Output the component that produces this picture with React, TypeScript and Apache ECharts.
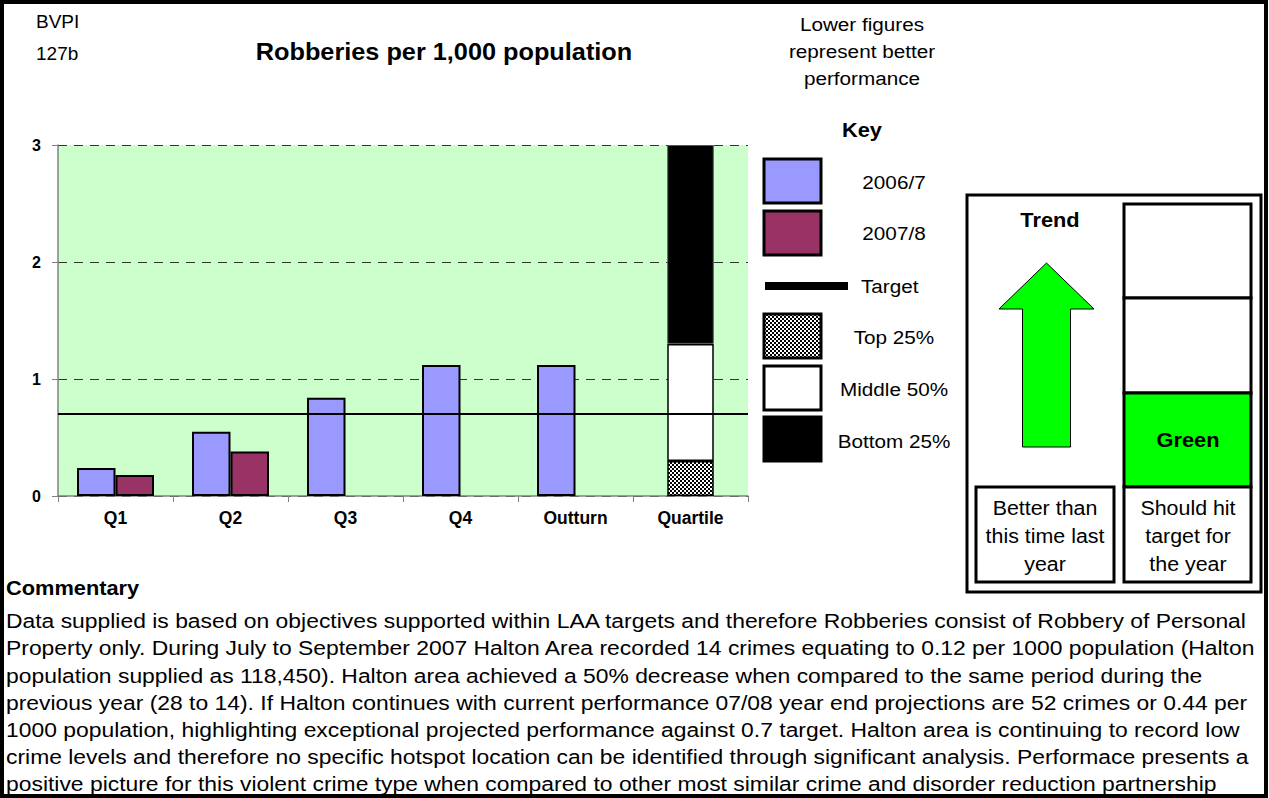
import React, { useEffect, useRef } from 'react';
import * as echarts from 'echarts';

const categories = ['Q1', 'Q2', 'Q3', 'Q4', 'Outturn', 'Quartile'];
const values2006 = [0.24, 0.55, 0.84, 1.12, 1.12, null];
const values2007 = [0.18, 0.38, null, null, null, null];
const targetValue = 0.7;
const quartileTop = [null, null, null, null, null, 0.3];
const quartileMiddle = [null, null, null, null, null, 1.0];
const quartileBottom = [null, null, null, null, null, 1.7];
const yMin = 0;
const yMax = 3;
const yInterval = 1;

const headerLines = ['BVPI', '127b'];
const titleText = 'Robberies per 1,000 population';
const noteLines = ['Lower figures', 'represent better', 'performance'];
const keyTitle = 'Key';
const keyLabels = ['2006/7', '2007/8', 'Target', 'Top 25%', 'Middle 50%', 'Bottom 25%'];
const trendTitle = 'Trend';
const ragText = 'Green';
const trendLines = ['Better than', 'this time last', 'year'];
const targetLines = ['Should hit', 'target for', 'the year'];
const commentaryTitle = 'Commentary';
const commentaryLines = [
  'Data supplied is based on objectives supported within LAA targets and therefore Robberies consist of Robbery of Personal',
  'Property only. During July to September 2007 Halton Area recorded 14 crimes equating to 0.12 per 1000 population (Halton',
  'population supplied as 118,450). Halton area achieved a 50% decrease when compared to the same period during the',
  'previous year (28 to 14). If Halton continues with current performance 07/08 year end projections are 52 crimes or 0.44 per',
  '1000 population, highlighting exceptional projected performance against 0.7 target. Halton area is continuing to record low',
  'crime levels and therefore no specific hotspot location can be identified through significant analysis. Performace presents a',
  'positive picture for this violent crime type when compared to other most similar crime and disorder reduction partnership',
];

const FONT = 'Liberation Sans, Arial, sans-serif';
const BLUE = '#9999FF';
const MAROON = '#993366';
const SX = 1.09;

function makeChecker() {
  const c = document.createElement('canvas');
  c.width = 4;
  c.height = 4;
  const ctx = c.getContext('2d');
  if (ctx) {
    ctx.fillStyle = '#ffffff';
    ctx.fillRect(0, 0, 4, 4);
    ctx.fillStyle = '#000000';
    ctx.fillRect(0, 0, 2, 2);
    ctx.fillRect(2, 2, 2, 2);
  }
  return c;
}

function txt(text: string, x: number, y: number, size: number, opts: any = {}) {
  return {
    type: 'text',
    z: 70,
    x,
    y,
    scaleX: opts.sx != null ? opts.sx : SX,
    style: {
      text,
      x: 0,
      y: 0,
      fill: '#000',
      fontFamily: FONT,
      fontSize: size,
      fontWeight: opts.bold ? 'bold' : 'normal',
      textAlign: opts.align || 'left',
      textVerticalAlign: 'middle',
    },
  };
}

export default function App() {
  const ref = useRef<HTMLDivElement>(null);
  useEffect(() => {
    if (!ref.current) return;
    const chart = echarts.init(ref.current, undefined, { renderer: 'svg' });
    const checker = { image: makeChecker(), repeat: 'repeat' };

    const g: any[] = [];
    // page border
    g.push({
      type: 'rect', z: 60,
      shape: { x: 2, y: 2, width: 1264, height: 794 },
      style: { fill: 'none', stroke: '#000', lineWidth: 4 },
    });
    g.push(txt(headerLines[0], 36, 21, 19, { sx: 1 }));
    g.push(txt(headerLines[1], 36, 53, 19, { sx: 1 }));
    g.push(txt(titleText, 444, 52, 23, { bold: true, align: 'center', sx: 1.1 }));
    noteLines.forEach((l, i) => g.push(txt(l, 862, 24 + i * 27, 19, { align: 'center' })));

    // Key
    g.push(txt(keyTitle, 862, 130, 20, { bold: true, align: 'center' }));
    const swY = [159, 211, 0, 314, 366, 417];
    const swFill: any[] = [BLUE, MAROON, null, checker, '#ffffff', '#000000'];
    const labY = [182, 233, 286, 337, 389, 441];
    keyLabels.forEach((lab, i) => {
      if (i === 2) {
        g.push({
          type: 'line', z: 50,
          shape: { x1: 765, y1: 286, x2: 848, y2: 286 },
          style: { stroke: '#000', lineWidth: 8 },
        });
        g.push(txt(lab, 861, labY[i], 19));
      } else {
        g.push({
          type: 'rect', z: 50,
          shape: { x: 764, y: swY[i], width: 57, height: 44 },
          style: { fill: swFill[i], stroke: '#000', lineWidth: 3 },
        });
        g.push(txt(lab, 894, labY[i], 19, { align: 'center' }));
      }
    });

    // Trend panel
    g.push({
      type: 'rect', z: 50,
      shape: { x: 967, y: 195, width: 294, height: 397 },
      style: { fill: '#fff', stroke: '#000', lineWidth: 3 },
    });
    g.push(txt(trendTitle, 1050, 220, 20, { bold: true, align: 'center' }));
    g.push({
      type: 'polygon', z: 51,
      shape: {
        points: [
          [1046.5, 263], [1094, 309], [1070.5, 309], [1070.5, 447],
          [1022.5, 447], [1022.5, 309], [999, 309],
        ],
      },
      style: { fill: '#00FF00', stroke: '#000', lineWidth: 1 },
    });
    const colX = 1124;
    const colW = 127;
    const boxes = [
      { y: 204, h: 94, fill: '#fff' },
      { y: 298, h: 95, fill: '#fff' },
      { y: 393, h: 94, fill: '#00FF00' },
      { y: 487, h: 95, fill: '#fff' },
    ];
    boxes.forEach((b) => {
      g.push({
        type: 'rect', z: 51,
        shape: { x: colX, y: b.y, width: colW, height: b.h },
        style: { fill: b.fill, stroke: '#000', lineWidth: 3 },
      });
    });
    g.push(txt(ragText, 1188, 440, 20, { bold: true, align: 'center' }));
    g.push({
      type: 'rect', z: 51,
      shape: { x: 976, y: 487, width: 138, height: 95 },
      style: { fill: '#fff', stroke: '#000', lineWidth: 3 },
    });
    trendLines.forEach((l, i) => g.push(txt(l, 1045, 508 + i * 28, 20, { align: 'center', sx: 1.07 })));
    targetLines.forEach((l, i) => g.push(txt(l, 1188, 508 + i * 28, 20, { align: 'center', sx: 1.07 })));

    // Commentary
    g.push(txt(commentaryTitle, 6, 588, 20, { bold: true }));
    commentaryLines.forEach((l, i) => g.push(txt(l, 6, 621 + i * 27.2, 21)));

    const option: any = {
      animation: false,
      backgroundColor: '#ffffff',
      grid: {
        left: 58, top: 145, width: 690, height: 351,
        show: true, backgroundColor: '#CCFFCC', borderWidth: 0,
      },
      xAxis: [
        {
          type: 'category',
          data: categories,
          axisLine: { lineStyle: { color: '#808080', width: 1.5 } },
          axisTick: { show: true, length: 6, lineStyle: { color: '#808080' } },
          axisLabel: {
            color: '#000', fontFamily: FONT, fontWeight: 'bold', fontSize: 17.5, margin: 13,
          },
          splitLine: { show: false },
        },
        {
          type: 'category',
          data: categories,
          show: false,
        },
      ],
      yAxis: {
        type: 'value',
        min: yMin,
        max: yMax,
        interval: yInterval,
        axisLine: { show: true, lineStyle: { color: '#808080', width: 1.5 } },
        axisTick: { show: true, length: 6, lineStyle: { color: '#808080' } },
        axisLabel: {
          color: '#000', fontFamily: FONT, fontWeight: 'bold', fontSize: 16, margin: 17,
        },
        splitLine: { show: true, lineStyle: { color: '#333', width: 1, type: [9, 7] } },
      },
      series: [
        {
          name: keyLabels[0], type: 'bar', data: values2006, barWidth: 38.5, barGap: '0%',
          itemStyle: { color: BLUE, borderColor: '#000', borderWidth: 2 },
        },
        {
          name: keyLabels[1], type: 'bar', data: values2007, barWidth: 38.5, barGap: '0%',
          itemStyle: { color: MAROON, borderColor: '#000', borderWidth: 2 },
        },
        {
          name: keyLabels[3], type: 'bar', xAxisIndex: 1, stack: 'quartile', data: quartileTop,
          barWidth: 46.5, itemStyle: { color: checker, borderColor: '#000', borderWidth: 1.5 },
        },
        {
          name: keyLabels[4], type: 'bar', xAxisIndex: 1, stack: 'quartile', data: quartileMiddle,
          barWidth: 46.5, itemStyle: { color: '#ffffff', borderColor: '#000', borderWidth: 1.5 },
        },
        {
          name: keyLabels[5], type: 'bar', xAxisIndex: 1, stack: 'quartile', data: quartileBottom,
          barWidth: 46.5, itemStyle: { color: '#000000', borderColor: '#555', borderWidth: 1 },
        },
        {
          name: keyLabels[2], type: 'line', data: [], z: 10,
          markLine: {
            symbol: 'none', silent: true, label: { show: false },
            lineStyle: { color: '#000', width: 2, type: 'solid' },
            data: [{ yAxis: targetValue }],
          },
        },
      ],
      graphic: { elements: g },
    };
    chart.setOption(option);
    return () => chart.dispose();
  }, []);
  return (
    <div
      ref={ref}
      style={{ position: 'absolute', left: 0, top: 0, width: 1269, height: 798, background: '#fff' }}
    />
  );
}
